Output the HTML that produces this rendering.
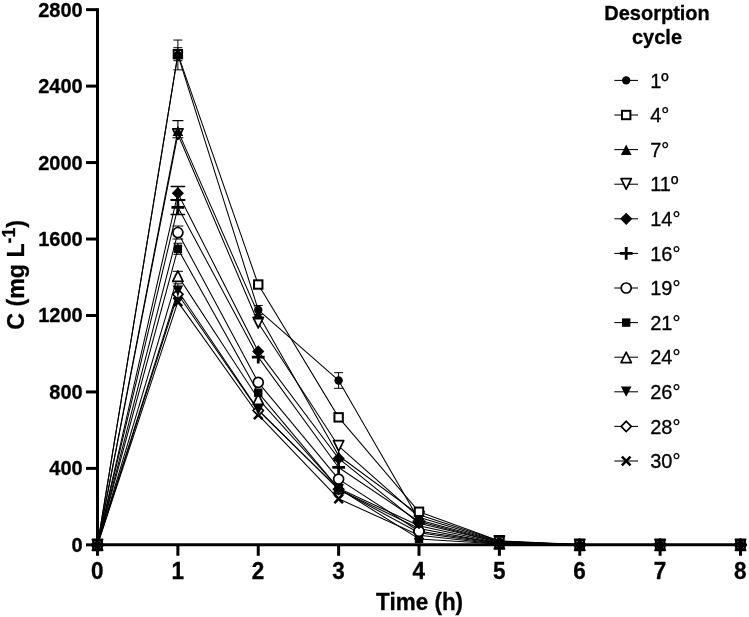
<!DOCTYPE html>
<html><head><meta charset="utf-8"><title>Desorption cycles</title>
<style>html,body{margin:0;padding:0;background:#fff;}body{width:749px;height:617px;overflow:hidden;font-family:"Liberation Sans",sans-serif;}svg{display:block;will-change:transform;}text{font-family:"Liberation Sans",sans-serif;fill:#000;stroke:#000;stroke-width:0.3px;}</style>
</head><body>
<svg width="749" height="617" viewBox="0 0 749 617">
<rect width="749" height="617" fill="#fff"/>
<g fill="none" stroke="#000" stroke-width="3.0">
<path d="M97.5 8.15V546.35"/>
<path d="M96 544.85H742"/>
<path d="M86 544.85H97.5"/>
<path d="M86 468.39H97.5"/>
<path d="M86 391.94H97.5"/>
<path d="M86 315.48H97.5"/>
<path d="M86 239.02H97.5"/>
<path d="M86 162.56H97.5"/>
<path d="M86 86.11H97.5"/>
<path d="M86 9.65H97.5"/>
<path d="M97.5 544.85V555.8"/>
<path d="M177.88 544.85V555.8"/>
<path d="M258.25 544.85V555.8"/>
<path d="M338.62 544.85V555.8"/>
<path d="M419 544.85V555.8"/>
<path d="M499.38 544.85V555.8"/>
<path d="M579.75 544.85V555.8"/>
<path d="M660.12 544.85V555.8"/>
<path d="M740.5 544.85V555.8"/>
</g>
<g fill="none" stroke="#000" stroke-width="1.05" stroke-linejoin="round">
<polyline points="97.5,544.85 177.88,54.95 258.25,309.94 338.62,380.47 419,520 499.38,541.79 579.75,544.85 660.12,544.85 740.5,544.85"/>
<polyline points="97.5,544.85 177.88,54.19 258.25,284.51 338.62,417.36 419,511.78 499.38,541.03 579.75,544.47 660.12,544.85 740.5,544.85"/>
<polyline points="97.5,544.85 177.88,130.64 258.25,314.14 338.62,455.78 419,514.84 499.38,541.03 579.75,544.85 660.12,544.85 740.5,544.85"/>
<polyline points="97.5,544.85 177.88,134.28 258.25,322.93 338.62,446.22 419,517.13 499.38,541.41 579.75,544.85 660.12,544.85 740.5,544.85"/>
<polyline points="97.5,544.85 177.88,193.15 258.25,351.41 338.62,458.45 419,523.25 499.38,542.56 579.75,544.85 660.12,544.85 740.5,544.85"/>
<polyline points="97.5,544.85 177.88,207.29 258.25,357.15 338.62,467.44 419,521.53 499.38,542.56 579.75,544.85 660.12,544.85 740.5,544.85"/>
<polyline points="97.5,544.85 177.88,232.52 258.25,382.38 338.62,479.1 419,531.28 499.38,543.32 579.75,544.85 660.12,544.85 740.5,544.85"/>
<polyline points="97.5,544.85 177.88,248.77 258.25,392.7 338.62,488.65 419,538.92 499.38,544.09 579.75,544.85 660.12,544.85 740.5,544.85"/>
<polyline points="97.5,544.85 177.88,275.91 258.25,398.82 338.62,488.27 419,525.74 499.38,543.32 579.75,544.85 660.12,544.85 740.5,544.85"/>
<polyline points="97.5,544.85 177.88,290.82 258.25,409.9 338.62,489.42 419,528.41 499.38,543.89 579.75,544.85 660.12,544.85 740.5,544.85"/>
<polyline points="97.5,544.85 177.88,294.26 258.25,410.48 338.62,489.23 419,532.81 499.38,544.09 579.75,544.85 660.12,544.85 740.5,544.85"/>
<polyline points="97.5,544.85 177.88,301.91 258.25,414.87 338.62,498.78 419,535.29 499.38,544.28 579.75,544.85 660.12,544.85 740.5,544.85"/>
</g>
<g fill="#000">
<path d="M93.2 540.55L101.8 549.15M93.2 549.15L101.8 540.55" stroke="#000" stroke-width="2.6" fill="none"/>
<path d="M173.57 297.61L182.18 306.21M173.57 306.21L182.18 297.61" stroke="#000" stroke-width="2.6" fill="none"/>
<path d="M253.95 410.57L262.55 419.17M253.95 419.17L262.55 410.57" stroke="#000" stroke-width="2.6" fill="none"/>
<path d="M334.32 494.48L342.93 503.08M334.32 503.08L342.93 494.48" stroke="#000" stroke-width="2.6" fill="none"/>
<path d="M414.7 530.99L423.3 539.59M414.7 539.59L423.3 530.99" stroke="#000" stroke-width="2.6" fill="none"/>
<path d="M495.07 539.98L503.68 548.58M495.07 548.58L503.68 539.98" stroke="#000" stroke-width="2.6" fill="none"/>
<path d="M575.45 540.55L584.05 549.15M575.45 549.15L584.05 540.55" stroke="#000" stroke-width="2.6" fill="none"/>
<path d="M655.83 540.55L664.42 549.15M655.83 549.15L664.42 540.55" stroke="#000" stroke-width="2.6" fill="none"/>
<path d="M736.2 540.55L744.8 549.15M736.2 549.15L744.8 540.55" stroke="#000" stroke-width="2.6" fill="none"/>
<path d="M97.5 539.75L102.6 544.85L97.5 549.95L92.4 544.85Z" fill="#fff" stroke="#000" stroke-width="1.7"/>
<path d="M177.88 289.16L182.97 294.26L177.88 299.36L172.78 294.26Z" fill="#fff" stroke="#000" stroke-width="1.7"/>
<path d="M258.25 405.38L263.35 410.48L258.25 415.58L253.15 410.48Z" fill="#fff" stroke="#000" stroke-width="1.7"/>
<path d="M338.62 484.13L343.73 489.23L338.62 494.33L333.52 489.23Z" fill="#fff" stroke="#000" stroke-width="1.7"/>
<path d="M419 527.71L424.1 532.81L419 537.91L413.9 532.81Z" fill="#fff" stroke="#000" stroke-width="1.7"/>
<path d="M499.38 538.99L504.48 544.09L499.38 549.19L494.27 544.09Z" fill="#fff" stroke="#000" stroke-width="1.7"/>
<path d="M579.75 539.75L584.85 544.85L579.75 549.95L574.65 544.85Z" fill="#fff" stroke="#000" stroke-width="1.7"/>
<path d="M660.12 539.75L665.23 544.85L660.12 549.95L655.02 544.85Z" fill="#fff" stroke="#000" stroke-width="1.7"/>
<path d="M740.5 539.75L745.6 544.85L740.5 549.95L735.4 544.85Z" fill="#fff" stroke="#000" stroke-width="1.7"/>
<path fill="none" stroke="#000" stroke-width="1.0" d="M177.88 283.82V297.82M173.32 283.82H182.43M173.32 297.82H182.43"/>
<path d="M97.5 549.85L102.8 539.45L92.2 539.45Z"/>
<path d="M177.88 295.82L183.18 285.42L172.57 285.42Z"/>
<path d="M258.25 414.9L263.55 404.5L252.95 404.5Z"/>
<path d="M338.62 494.42L343.93 484.02L333.32 484.02Z"/>
<path d="M419 533.41L424.3 523.01L413.7 523.01Z"/>
<path d="M499.38 548.89L504.68 538.49L494.07 538.49Z"/>
<path d="M579.75 549.85L585.05 539.45L574.45 539.45Z"/>
<path d="M660.12 549.85L665.42 539.45L654.83 539.45Z"/>
<path d="M740.5 549.85L745.8 539.45L735.2 539.45Z"/>
<path fill="none" stroke="#000" stroke-width="1.0" d="M177.88 271.31V280.51M172.72 271.31H183.03M172.72 280.51H183.03"/>
<path d="M97.5 539.85L102.65 550.35L92.35 550.35Z" fill="#fff" stroke="#000" stroke-width="1.7" stroke-linejoin="round"/>
<path d="M177.88 270.91L183.03 281.41L172.72 281.41Z" fill="#fff" stroke="#000" stroke-width="1.7" stroke-linejoin="round"/>
<path d="M258.25 393.82L263.4 404.32L253.1 404.32Z" fill="#fff" stroke="#000" stroke-width="1.7" stroke-linejoin="round"/>
<path d="M338.62 483.27L343.77 493.77L333.48 493.77Z" fill="#fff" stroke="#000" stroke-width="1.7" stroke-linejoin="round"/>
<path d="M419 520.74L424.15 531.24L413.85 531.24Z" fill="#fff" stroke="#000" stroke-width="1.7" stroke-linejoin="round"/>
<path d="M499.38 538.32L504.52 548.82L494.23 548.82Z" fill="#fff" stroke="#000" stroke-width="1.7" stroke-linejoin="round"/>
<path d="M579.75 539.85L584.9 550.35L574.6 550.35Z" fill="#fff" stroke="#000" stroke-width="1.7" stroke-linejoin="round"/>
<path d="M660.12 539.85L665.27 550.35L654.98 550.35Z" fill="#fff" stroke="#000" stroke-width="1.7" stroke-linejoin="round"/>
<path d="M740.5 539.85L745.65 550.35L735.35 550.35Z" fill="#fff" stroke="#000" stroke-width="1.7" stroke-linejoin="round"/>
<path fill="none" stroke="#000" stroke-width="1.0" d="M177.88 243.27V254.27M173.32 243.27H182.43M173.32 254.27H182.43"/>
<rect x="93.3" y="540.65" width="8.4" height="8.4"/>
<rect x="173.68" y="244.57" width="8.4" height="8.4"/>
<rect x="254.05" y="388.5" width="8.4" height="8.4"/>
<rect x="334.43" y="484.45" width="8.4" height="8.4"/>
<rect x="414.8" y="534.72" width="8.4" height="8.4"/>
<rect x="495.18" y="539.89" width="8.4" height="8.4"/>
<rect x="575.55" y="540.65" width="8.4" height="8.4"/>
<rect x="655.92" y="540.65" width="8.4" height="8.4"/>
<rect x="736.3" y="540.65" width="8.4" height="8.4"/>
<path fill="none" stroke="#000" stroke-width="1.0" d="M177.88 226.02V239.02M172.47 226.02H183.28M172.47 239.02H183.28"/>
<circle cx="97.5" cy="544.85" r="5.0" fill="#fff" stroke="#000" stroke-width="1.7" stroke-linejoin="round"/>
<circle cx="177.88" cy="232.52" r="5.0" fill="#fff" stroke="#000" stroke-width="1.7" stroke-linejoin="round"/>
<circle cx="258.25" cy="382.38" r="5.0" fill="#fff" stroke="#000" stroke-width="1.7" stroke-linejoin="round"/>
<circle cx="338.62" cy="479.1" r="5.0" fill="#fff" stroke="#000" stroke-width="1.7" stroke-linejoin="round"/>
<circle cx="419" cy="531.28" r="5.0" fill="#fff" stroke="#000" stroke-width="1.7" stroke-linejoin="round"/>
<circle cx="499.38" cy="543.32" r="5.0" fill="#fff" stroke="#000" stroke-width="1.7" stroke-linejoin="round"/>
<circle cx="579.75" cy="544.85" r="5.0" fill="#fff" stroke="#000" stroke-width="1.7" stroke-linejoin="round"/>
<circle cx="660.12" cy="544.85" r="5.0" fill="#fff" stroke="#000" stroke-width="1.7" stroke-linejoin="round"/>
<circle cx="740.5" cy="544.85" r="5.0" fill="#fff" stroke="#000" stroke-width="1.7" stroke-linejoin="round"/>
<path fill="none" stroke="#000" stroke-width="1.6" d="M177.88 200.09V214.49M170.53 200.09H185.22M170.53 214.49H185.22"/>
<path d="M91.1 544.85H103.9M97.5 538.45V551.25" stroke="#000" stroke-width="2.8" fill="none"/>
<path d="M171.47 207.29H184.28M177.88 200.89V213.69" stroke="#000" stroke-width="2.8" fill="none"/>
<path d="M251.85 357.15H264.65M258.25 350.75V363.55" stroke="#000" stroke-width="2.8" fill="none"/>
<path d="M332.23 467.44H345.02M338.62 461.04V473.84" stroke="#000" stroke-width="2.8" fill="none"/>
<path d="M412.6 521.53H425.4M419 515.13V527.93" stroke="#000" stroke-width="2.8" fill="none"/>
<path d="M492.98 542.56H505.77M499.38 536.16V548.96" stroke="#000" stroke-width="2.8" fill="none"/>
<path d="M573.35 544.85H586.15M579.75 538.45V551.25" stroke="#000" stroke-width="2.8" fill="none"/>
<path d="M653.73 544.85H666.52M660.12 538.45V551.25" stroke="#000" stroke-width="2.8" fill="none"/>
<path d="M734.1 544.85H746.9M740.5 538.45V551.25" stroke="#000" stroke-width="2.8" fill="none"/>
<path fill="none" stroke="#000" stroke-width="1.6" d="M177.88 186.55V199.75M170.53 186.55H185.22M170.53 199.75H185.22"/>
<path d="M97.5 538.75L103.6 544.85L97.5 550.95L91.4 544.85Z"/>
<path d="M177.88 187.05L183.97 193.15L177.88 199.25L171.78 193.15Z"/>
<path d="M258.25 345.31L264.35 351.41L258.25 357.51L252.15 351.41Z"/>
<path d="M338.62 452.35L344.73 458.45L338.62 464.55L332.52 458.45Z"/>
<path d="M419 517.15L425.1 523.25L419 529.35L412.9 523.25Z"/>
<path d="M499.38 536.46L505.48 542.56L499.38 548.66L493.27 542.56Z"/>
<path d="M579.75 538.75L585.85 544.85L579.75 550.95L573.65 544.85Z"/>
<path d="M660.12 538.75L666.23 544.85L660.12 550.95L654.02 544.85Z"/>
<path d="M740.5 538.75L746.6 544.85L740.5 550.95L734.4 544.85Z"/>
<path fill="none" stroke="#000" stroke-width="1.1" d="M177.88 134.28V137.68M172.38 137.68H183.38"/>
<path d="M97.5 549.85L102.65 539.35L92.35 539.35Z" fill="#fff" stroke="#000" stroke-width="1.7" stroke-linejoin="round"/>
<path d="M177.88 139.28L183.03 128.78L172.72 128.78Z" fill="#fff" stroke="#000" stroke-width="1.7" stroke-linejoin="round"/>
<path d="M258.25 327.93L263.4 317.43L253.1 317.43Z" fill="#fff" stroke="#000" stroke-width="1.7" stroke-linejoin="round"/>
<path d="M338.62 451.22L343.77 440.72L333.48 440.72Z" fill="#fff" stroke="#000" stroke-width="1.7" stroke-linejoin="round"/>
<path d="M419 522.13L424.15 511.63L413.85 511.63Z" fill="#fff" stroke="#000" stroke-width="1.7" stroke-linejoin="round"/>
<path d="M499.38 546.41L504.52 535.91L494.23 535.91Z" fill="#fff" stroke="#000" stroke-width="1.7" stroke-linejoin="round"/>
<path d="M579.75 549.85L584.9 539.35L574.6 539.35Z" fill="#fff" stroke="#000" stroke-width="1.7" stroke-linejoin="round"/>
<path d="M660.12 549.85L665.27 539.35L654.98 539.35Z" fill="#fff" stroke="#000" stroke-width="1.7" stroke-linejoin="round"/>
<path d="M740.5 549.85L745.65 539.35L735.35 539.35Z" fill="#fff" stroke="#000" stroke-width="1.7" stroke-linejoin="round"/>
<path fill="none" stroke="#000" stroke-width="1.1" d="M177.88 120.64V130.64M172.38 120.64H183.38"/>
<path d="M97.5 539.85L102.8 550.25L92.2 550.25Z"/>
<path d="M177.88 125.64L183.18 136.04L172.57 136.04Z"/>
<path d="M258.25 309.14L263.55 319.54L252.95 319.54Z"/>
<path d="M338.62 450.78L343.93 461.18L333.32 461.18Z"/>
<path d="M419 509.84L424.3 520.24L413.7 520.24Z"/>
<path d="M499.38 536.03L504.68 546.43L494.07 546.43Z"/>
<path d="M579.75 539.85L585.05 550.25L574.45 550.25Z"/>
<path d="M660.12 539.85L665.42 550.25L654.83 550.25Z"/>
<path d="M740.5 539.85L745.8 550.25L735.2 550.25Z"/>
<path fill="none" stroke="#000" stroke-width="1.0" d="M177.88 47.69V60.69M173.38 47.69H182.38M173.38 60.69H182.38"/>
<rect x="93.3" y="540.65" width="8.4" height="8.4" fill="#fff" stroke="#000" stroke-width="2"/>
<rect x="173.68" y="49.99" width="8.4" height="8.4" fill="#fff" stroke="#000" stroke-width="2"/>
<rect x="254.05" y="280.31" width="8.4" height="8.4" fill="#fff" stroke="#000" stroke-width="2"/>
<rect x="334.43" y="413.16" width="8.4" height="8.4" fill="#fff" stroke="#000" stroke-width="2"/>
<rect x="414.8" y="507.58" width="8.4" height="8.4" fill="#fff" stroke="#000" stroke-width="2"/>
<rect x="495.18" y="536.83" width="8.4" height="8.4" fill="#fff" stroke="#000" stroke-width="2"/>
<rect x="575.55" y="540.27" width="8.4" height="8.4" fill="#fff" stroke="#000" stroke-width="2"/>
<rect x="655.92" y="540.65" width="8.4" height="8.4" fill="#fff" stroke="#000" stroke-width="2"/>
<rect x="736.3" y="540.65" width="8.4" height="8.4" fill="#fff" stroke="#000" stroke-width="2"/>
<path fill="none" stroke="#000" stroke-width="1.0" d="M177.88 40.05V69.85M173.38 40.05H182.38M173.38 69.85H182.38"/>
<path fill="none" stroke="#000" stroke-width="1.0" d="M258.25 305.44V314.44M253.75 305.44H262.75M253.75 314.44H262.75"/>
<path fill="none" stroke="#000" stroke-width="1.0" d="M338.62 372.67V388.27M334.12 372.67H343.12M334.12 388.27H343.12"/>
<circle cx="97.5" cy="544.85" r="4.2"/>
<circle cx="177.88" cy="54.95" r="4.2"/>
<circle cx="258.25" cy="309.94" r="4.2"/>
<circle cx="338.62" cy="380.47" r="4.2"/>
<circle cx="419" cy="520" r="4.2"/>
<circle cx="499.38" cy="541.79" r="4.2"/>
<circle cx="579.75" cy="544.85" r="4.2"/>
<circle cx="660.12" cy="544.85" r="4.2"/>
<circle cx="740.5" cy="544.85" r="4.2"/>
</g>
<g font-weight="bold" font-size="20px">
<text transform="translate(82.7 551.85) scale(1 1.05)" text-anchor="end">0</text>
<text transform="translate(82.7 475.39) scale(1 1.05)" text-anchor="end">400</text>
<text transform="translate(82.7 398.94) scale(1 1.05)" text-anchor="end">800</text>
<text transform="translate(82.7 322.48) scale(1 1.05)" text-anchor="end">1200</text>
<text transform="translate(82.7 246.02) scale(1 1.05)" text-anchor="end">1600</text>
<text transform="translate(82.7 169.56) scale(1 1.05)" text-anchor="end">2000</text>
<text transform="translate(82.7 93.11) scale(1 1.05)" text-anchor="end">2400</text>
<text transform="translate(82.7 16.65) scale(1 1.05)" text-anchor="end">2800</text>
<text transform="translate(97.3 578.7) scale(1 1.05)" text-anchor="middle" font-size="22.5px">0</text>
<text transform="translate(177.68 578.7) scale(1 1.05)" text-anchor="middle" font-size="22.5px">1</text>
<text transform="translate(258.05 578.7) scale(1 1.05)" text-anchor="middle" font-size="22.5px">2</text>
<text transform="translate(338.43 578.7) scale(1 1.05)" text-anchor="middle" font-size="22.5px">3</text>
<text transform="translate(418.8 578.7) scale(1 1.05)" text-anchor="middle" font-size="22.5px">4</text>
<text transform="translate(499.18 578.7) scale(1 1.05)" text-anchor="middle" font-size="22.5px">5</text>
<text transform="translate(579.55 578.7) scale(1 1.05)" text-anchor="middle" font-size="22.5px">6</text>
<text transform="translate(659.92 578.7) scale(1 1.05)" text-anchor="middle" font-size="22.5px">7</text>
<text transform="translate(740.3 578.7) scale(1 1.05)" text-anchor="middle" font-size="22.5px">8</text>
</g>
<text transform="translate(419.6 609.5) scale(1 1.05)" text-anchor="middle" font-weight="bold" font-size="22.5px">Time (h)</text>
<text transform="translate(23.8 274.9) rotate(-90) scale(1.03 1.05)" text-anchor="middle" font-weight="bold" font-size="22.5px">C (mg L<tspan font-size="17px" dy="-8.7">-1</tspan><tspan dy="8.7">)</tspan></text>
<g font-weight="bold" font-size="20px">
<text transform="translate(657 19.8) scale(1 1.05)" text-anchor="middle">Desorption</text>
<text transform="translate(657 44.3) scale(1 1.05)" text-anchor="middle">cycle</text>
</g>
<g fill="none" stroke="#000" stroke-width="1.05">
<path d="M614.3 80.4H638"/>
<path d="M614.3 115H638"/>
<path d="M614.3 149.6H638"/>
<path d="M614.3 184.2H638"/>
<path d="M614.3 218.8H638"/>
<path d="M614.3 253.4H638"/>
<path d="M614.3 288H638"/>
<path d="M614.3 322.6H638"/>
<path d="M614.3 357.2H638"/>
<path d="M614.3 391.8H638"/>
<path d="M614.3 426.4H638"/>
<path d="M614.3 461H638"/>
</g>
<g fill="#000">
<circle cx="626.2" cy="80.4" r="4.2"/>
<rect x="622" y="110.8" width="8.4" height="8.4" fill="#fff" stroke="#000" stroke-width="2"/>
<path d="M626.2 144.6L631.5 155L620.9 155Z"/>
<path d="M626.2 189.2L631.35 178.7L621.05 178.7Z" fill="#fff" stroke="#000" stroke-width="1.7" stroke-linejoin="round"/>
<path d="M626.2 212.7L632.3 218.8L626.2 224.9L620.1 218.8Z"/>
<path d="M619.8 253.4H632.6M626.2 247V259.8" stroke="#000" stroke-width="2.8" fill="none"/>
<circle cx="626.2" cy="288" r="5.0" fill="#fff" stroke="#000" stroke-width="1.7" stroke-linejoin="round"/>
<rect x="622" y="318.4" width="8.4" height="8.4"/>
<path d="M626.2 352.2L631.35 362.7L621.05 362.7Z" fill="#fff" stroke="#000" stroke-width="1.7" stroke-linejoin="round"/>
<path d="M626.2 396.8L631.5 386.4L620.9 386.4Z"/>
<path d="M626.2 421.3L631.3 426.4L626.2 431.5L621.1 426.4Z" fill="#fff" stroke="#000" stroke-width="1.7"/>
<path d="M621.9 456.7L630.5 465.3M621.9 465.3L630.5 456.7" stroke="#000" stroke-width="2.6" fill="none"/>
</g>
<g font-size="20px">
<text transform="translate(650.2 87.5) scale(1 1.05)" text-anchor="start">1º</text>
<text transform="translate(650.2 122.1) scale(1 1.05)" text-anchor="start">4°</text>
<text transform="translate(650.2 156.7) scale(1 1.05)" text-anchor="start">7°</text>
<text transform="translate(650.2 191.3) scale(1 1.05)" text-anchor="start">11º</text>
<text transform="translate(650.2 225.9) scale(1 1.05)" text-anchor="start">14°</text>
<text transform="translate(650.2 260.5) scale(1 1.05)" text-anchor="start">16°</text>
<text transform="translate(650.2 295.1) scale(1 1.05)" text-anchor="start">19°</text>
<text transform="translate(650.2 329.7) scale(1 1.05)" text-anchor="start">21°</text>
<text transform="translate(650.2 364.3) scale(1 1.05)" text-anchor="start">24°</text>
<text transform="translate(650.2 398.9) scale(1 1.05)" text-anchor="start">26°</text>
<text transform="translate(650.2 433.5) scale(1 1.05)" text-anchor="start">28°</text>
<text transform="translate(650.2 468.1) scale(1 1.05)" text-anchor="start">30°</text>
</g>
</svg>
</body></html>
